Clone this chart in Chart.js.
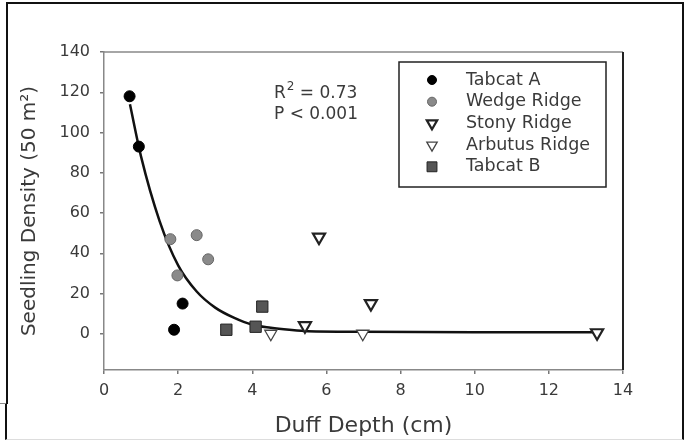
<!DOCTYPE html>
<html>
<head>
<meta charset="utf-8">
<script src="https://cdn.jsdelivr.net/npm/chart.js@4/dist/chart.umd.min.js"></script>
<style>
  html, body { margin: 0; padding: 0; background: #fff; }
  #wrap { position: relative; width: 686px; height: 441px; overflow: hidden; background:#fff; }
  #frame { position: absolute; left: 6px; top: 2px; width: 674px; height: 400px; border-left: 2px solid #111; border-top: 2px solid #111; border-right: 2px solid #111; pointer-events:none; }
  #frame2 { position: absolute; left: 5px; top: 403px; width: 675px; height: 36px; border-left: 2px solid #111; border-right: 2px solid #111; border-bottom: 1px solid #ddd; pointer-events:none; }
  #step { position: absolute; left: 0px; top: 403px; width: 6px; height: 0; border-top: 1px solid #888; }
  canvas { position: absolute; left: 0; top: 0; }
</style>
</head>
<body>
<div id="wrap">
  <canvas id="c" width="686" height="441"></canvas>
  <div id="frame"></div>
  <div id="frame2"></div>
  <div id="step"></div>
</div>
<script>
// ---- data ----
const xTicks = [0, 2, 4, 6, 8, 10, 12, 14];
const yTicks = [0, 20, 40, 60, 80, 100, 120, 140];

const seriesNames = ['Tabcat A', 'Wedge Ridge', 'Stony Ridge', 'Arbutus Ridge', 'Tabcat B'];

const tabcatAX = [0.69, 0.94, 1.89, 2.12];
const tabcatAY = [118, 93, 2, 15];

const wedgeX = [1.79, 2.50, 2.81, 1.98];
const wedgeY = [47, 49, 37, 29];

const stonyX = [5.80, 7.20, 5.42, 13.30];
const stonyY = [48, 15, 4, 0.5];

const arbutusX = [4.50, 6.98];
const arbutusY = [0, 0];

const tabcatBX = [3.30, 4.09, 4.27];
const tabcatBY = [2, 3.5, 13.5];

// fitted curve
const fitX = [0.7, 1.0, 1.5, 2.0, 2.5, 3.0, 3.5, 4.0, 4.5, 5.0, 5.5, 7.0, 10.0, 13.3];
const fitY = [114, 88, 56, 34, 21, 13, 8, 4.5, 3, 2, 1.3, 1, 0.8, 0.8];

const r2Text = '0.73';
const pText = 'P < 0.001';

function pts(xs, ys) { return xs.map((x, i) => ({ x: x, y: ys[i] })); }

const FONT = "'DejaVu Sans', 'Liberation Sans', Arial, sans-serif";
const TXT = '#3a3a3a';

const styles = [
  { pointStyle: 'circle',   radius: 5.5, bg: '#000',  border: '#000', bw: 1,   rot: 0 },
  { pointStyle: 'circle',   radius: 5.5, bg: '#8a8a8a', border: '#666', bw: 1, rot: 0 },
  { pointStyle: 'triangle', radius: 7,   bg: '#fff',  border: '#222', bw: 2.2, rot: 180 },
  { pointStyle: 'triangle', radius: 7,   bg: '#fff',  border: '#444', bw: 1.3, rot: 180 },
  { pointStyle: 'rect',     radius: 8,   bg: '#555',  border: '#222', bw: 1,   rot: 0 }
];

const seriesData = [
  pts(tabcatAX, tabcatAY),
  pts(wedgeX, wedgeY),
  pts(stonyX, stonyY),
  pts(arbutusX, arbutusY),
  pts(tabcatBX, tabcatBY)
];

const datasets = [{
  type: 'line',
  label: 'fit',
  data: pts(fitX, fitY),
  borderColor: '#111',
  borderWidth: 2.5,
  pointRadius: 0,
  tension: 0.4,
  cubicInterpolationMode: 'monotone',
  fill: false,
  order: 10
}].concat(seriesNames.map((n, i) => ({
  label: n,
  data: seriesData[i],
  pointStyle: styles[i].pointStyle,
  pointRadius: styles[i].radius,
  pointRotation: styles[i].rot,
  backgroundColor: styles[i].bg,
  borderColor: styles[i].border,
  pointBorderWidth: styles[i].bw,
  borderWidth: styles[i].bw,
  order: 1
})));

const decor = {
  id: 'decor',
  afterDatasetsDraw(chart) {
    const { ctx, chartArea: a } = chart;
    ctx.save();
    // top and right frame of plot area
    ctx.strokeStyle = '#888';
    ctx.lineWidth = 1.5;
    ctx.beginPath();
    ctx.moveTo(a.left, a.top); ctx.lineTo(a.right, a.top);
    ctx.stroke();
    ctx.strokeStyle = '#222';
    ctx.lineWidth = 2;
    ctx.beginPath();
    ctx.moveTo(a.right, a.top); ctx.lineTo(a.right, a.bottom);
    ctx.stroke();

    // annotation text
    ctx.fillStyle = TXT;
    ctx.textBaseline = 'alphabetic';
    ctx.textAlign = 'left';
    ctx.font = '17px ' + FONT;
    let x0 = 274;
    ctx.fillText('R', x0, 98);
    let w = ctx.measureText('R').width;
    ctx.font = '12px ' + FONT;
    ctx.fillText('2', x0 + w + 1, 90);
    let w2 = ctx.measureText('2').width;
    ctx.font = '17px ' + FONT;
    ctx.fillText(' = ' + r2Text, x0 + w + w2 + 1, 98);
    ctx.fillText(pText, x0, 119);

    // legend box
    const bx = 399, by = 62, bw = 207, bh = 125;
    ctx.strokeStyle = '#222';
    ctx.lineWidth = 1.5;
    ctx.strokeRect(bx, by, bw, bh);
    const items = chart.data.datasets.slice(1);
    items.forEach((ds, i) => {
      const cy = 80 + i * 21.7;
      ctx.fillStyle = ds.backgroundColor;
      ctx.strokeStyle = ds.borderColor;
      ctx.lineWidth = ds.pointBorderWidth;
      Chart.helpers.drawPoint(ctx, {
        pointStyle: ds.pointStyle,
        radius: ds.pointStyle === 'rect' ? 7 : (ds.pointStyle === 'triangle' ? 6 : 4.5),
        rotation: ds.pointRotation,
        borderWidth: ds.pointBorderWidth
      }, 432, cy);
      ctx.fillStyle = TXT;
      ctx.font = '17.5px ' + FONT;
      ctx.textBaseline = 'middle';
      ctx.fillText(ds.label, 466, cy);
    });
    ctx.restore();
  }
};

new Chart(document.getElementById('c'), {
  type: 'scatter',
  data: { datasets: datasets },
  options: {
    responsive: false,
    animation: false,
    devicePixelRatio: 1,
    layout: { padding: { top: 52, right: 63, left: 0, bottom: 0 } },
    plugins: { legend: { display: false }, tooltip: { enabled: false } },
    scales: {
      x: {
        type: 'linear',
        min: 0, max: 14,
        afterFit(s) { s.height = 71; },
        afterBuildTicks(s) { s.ticks = xTicks.map(v => ({ value: v })); },
        grid: { display: true, drawOnChartArea: false, drawTicks: true, tickLength: 4, color: '#777', lineWidth: 1.5 },
        border: { display: true, color: '#888', width: 1.5 },
        ticks: { color: TXT, font: { family: FONT, size: 16 }, padding: 7, maxRotation: 0 },
        title: { display: true, text: 'Duff Depth (cm)', color: TXT, font: { family: FONT, size: 22 }, padding: { top: 0, bottom: 2 } }
      },
      y: {
        type: 'linear',
        min: -18, max: 140,
        afterFit(s) { s.width = 104; },
        afterBuildTicks(s) { s.ticks = yTicks.map(v => ({ value: v })); },
        grid: { display: true, drawOnChartArea: false, drawTicks: true, tickLength: 4, color: '#777', lineWidth: 1.5 },
        border: { display: true, color: '#888', width: 1.5 },
        ticks: { color: TXT, font: { family: FONT, size: 16 }, padding: 10 },
        title: { display: true, text: 'Seedling Density (50 m\u00B2)', color: TXT, font: { family: FONT, size: 20 }, padding: { top: 18, bottom: 0 } }
      }
    }
  },
  plugins: [decor]
});
</script>
</body>
</html>
